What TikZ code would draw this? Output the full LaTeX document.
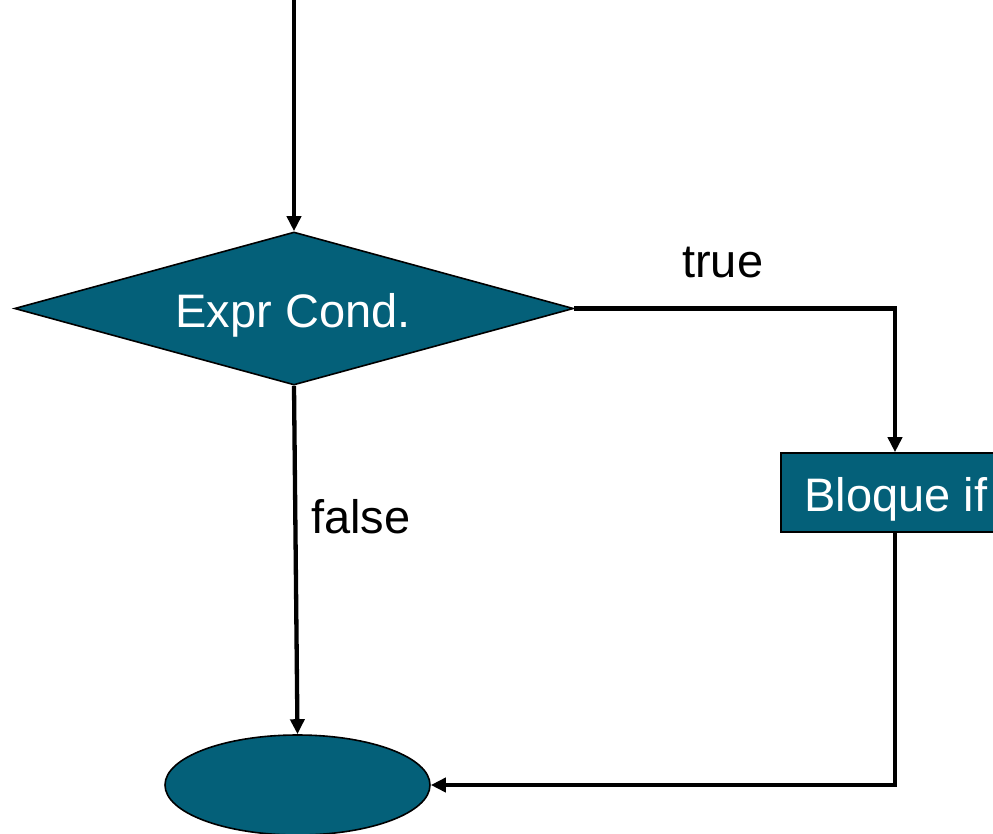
\documentclass[tikz,border=0pt]{standalone}
\usepackage{fontspec}
\setmainfont{Liberation Sans}
\usetikzlibrary{shapes.geometric,arrows.meta}
\definecolor{tealfill}{RGB}{4,96,121}
\begin{document}
\begin{tikzpicture}[x=1pt,y=-1pt,
  flow/.style={line width=4.3pt,-{Triangle[width=14pt,length=15pt]}},
  shapebox/.style={draw=black,line width=1.6pt,fill=tealfill,text=white,
    inner sep=0pt},
  big/.style={inner sep=0pt,font=\fontsize{47}{52}\selectfont},
  lbl/.style={big,anchor=base west}]
\useasboundingbox (0,0) rectangle (993,833);

\node[shapebox,diamond,minimum width=559pt,minimum height=153pt] (cond) at (294,308.5) {};
\node[big,text=white,anchor=base] (condtxt) at (293,327) {Expr Cond.};
\node[shapebox,rectangle,minimum width=228pt,minimum height=79pt] (block) at (895,492.5) {};
\node[big,text=white,anchor=base] (blocktxt) at (896,511) {Bloque if};
\node[shapebox,ellipse,minimum width=265pt,minimum height=100pt] (done) at (297.5,785) {};

\coordinate (start) at (294,0);

\draw[flow] (start) -- (cond.north);
\draw[flow] (cond.east) -| (block.north);
\draw[flow] (block.south) |- (done.east);
\draw[flow] (cond.south) -- (done.north);

\node[lbl] (truelbl) at (682,277) {true};
\node[lbl] (falselbl) at (311,533) {false};
\end{tikzpicture}
\end{document}
